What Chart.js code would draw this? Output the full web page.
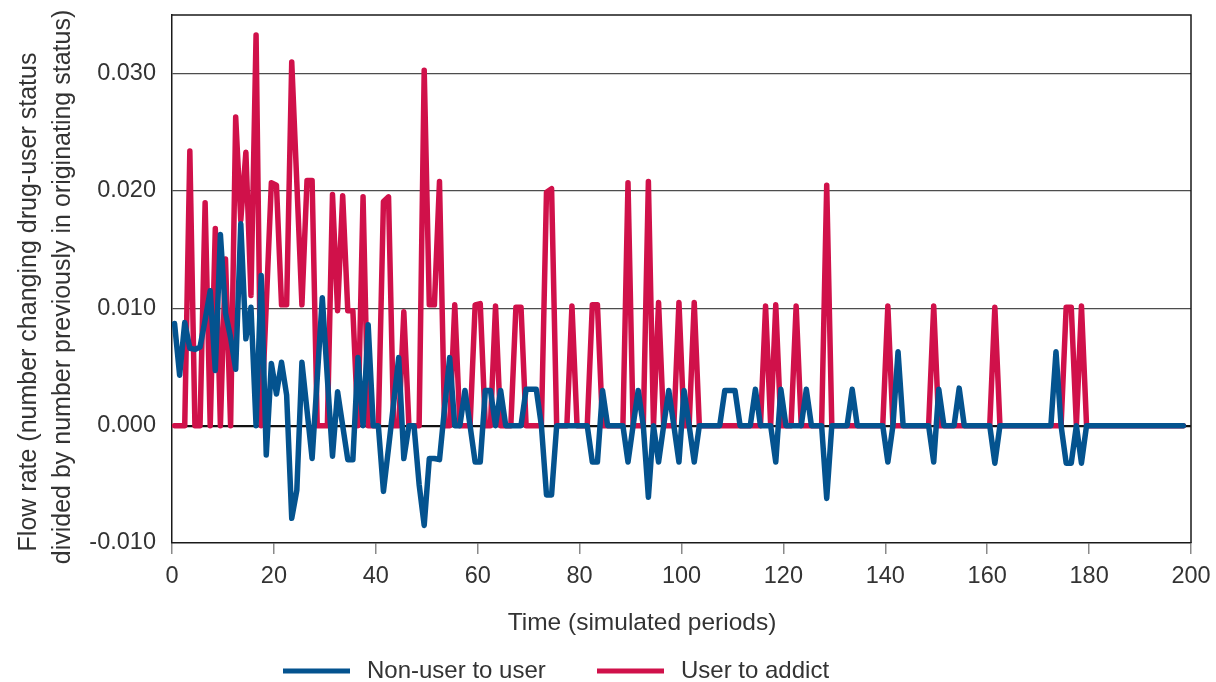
<!DOCTYPE html>
<html>
<head>
<meta charset="utf-8">
<script src="https://cdn.jsdelivr.net/npm/chart.js@4.4.1/dist/chart.umd.min.js"></script>
<style>
  html, body { margin: 0; padding: 0; background: #ffffff; }
  #wrap { width: 1216px; height: 682px; }
</style>
</head>
<body>
<div id="wrap"><canvas id="flowChart" width="1216" height="682"></canvas></div>
<script>
// Flow rates per simulated period (one value per period, k = 0..198)
const nonUserToUser = [
  0.0087, 0.0043, 0.0088, 0.0066, 0.0065, 0.0067, 0.0090, 0.0115, 0.0047, 0.0163,
  0.0096, 0.0075, 0.0048, 0.0172, 0.0074, 0.0101, 0, 0.0128, -0.0025, 0.0053,
  0.0027, 0.0054, 0.0026, -0.0079, -0.0055, 0.0054, 0.0013, -0.0028, 0.0040, 0.0109,
  0.0040, -0.0026, 0.0029, 0, -0.0029, -0.0029, 0.0058, 0, 0.0086, 0,
  0, -0.0056, -0.0019, 0.0019, 0.0058, -0.0028, 0, 0, -0.0050, -0.0085,
  -0.0028, -0.0028, -0.0029, 0.0015, 0.0058, 0, 0, 0.0030, 0, -0.0031,
  -0.0031, 0.0030, 0.0030, 0, 0.0030, 0, 0, 0, 0, 0.0031,
  0.0031, 0.0031, 0, -0.0059, -0.0059, 0, 0, 0, 0, 0,
  0, 0, -0.0031, -0.0031, 0.0030, 0, 0, 0, 0, -0.0031,
  0, 0.0030, 0, -0.0061, 0, -0.0031, 0, 0.0030, 0, -0.0031,
  0.0030, 0, -0.0031, 0, 0, 0, 0, 0, 0.0030, 0.0030,
  0.0030, 0, 0, 0, 0.0031, 0, 0, 0, -0.0031, 0.0031,
  0, 0, 0, 0, 0.0031, 0, 0, 0, -0.0062, 0,
  0, 0, 0, 0.0031, 0, 0, 0, 0, 0, 0,
  -0.0031, 0, 0.0063, 0, 0, 0, 0, 0, 0, -0.0031,
  0.0031, 0, 0, 0, 0.0032, 0, 0, 0, 0, 0,
  0, -0.0032, 0, 0, 0, 0, 0, 0, 0, 0,
  0, 0, 0, 0.0063, 0, -0.0032, -0.0032, 0, -0.0032, 0,
  0, 0, 0, 0, 0, 0, 0, 0, 0, 0,
  0, 0, 0, 0, 0, 0, 0, 0, 0
];

const userToAddict = [
  0, 0, 0, 0.0234, 0, 0, 0.0190, 0, 0.0168, 0,
  0.0142, 0, 0.0263, 0.0175, 0.0233, 0.0111, 0.0333, 0, 0.0103, 0.0207,
  0.0205, 0.0103, 0.0103, 0.0310, 0.0207, 0.0103, 0.0209, 0.0209, 0, 0,
  0, 0.0197, 0.0098, 0.0196, 0.0098, 0.0098, 0, 0.0195, 0, 0,
  0, 0.0191, 0.0195, 0, 0, 0.0097, 0, 0, 0, 0.0303,
  0.0103, 0.0103, 0.0208, 0, 0, 0.0103, 0, 0, 0, 0.0103,
  0.0104, 0, 0, 0.0102, 0, 0, 0, 0.0101, 0.0101, 0,
  0, 0, 0, 0.0199, 0.0202, 0, 0, 0, 0.0102, 0,
  0, 0, 0.0103, 0.0103, 0, 0, 0, 0, 0, 0.0207,
  0, 0, 0, 0.0208, 0, 0.0105, 0, 0, 0, 0.0105,
  0, 0, 0.0105, 0, 0, 0, 0, 0, 0, 0,
  0, 0, 0, 0, 0, 0, 0.0102, 0, 0.0103, 0,
  0, 0, 0.0102, 0, 0, 0, 0, 0, 0.0205, 0,
  0, 0, 0, 0, 0, 0, 0, 0, 0, 0,
  0.0102, 0, 0, 0, 0, 0, 0, 0, 0, 0.0102,
  0, 0, 0, 0, 0, 0, 0, 0, 0, 0,
  0, 0.0101, 0, 0, 0, 0, 0, 0, 0, 0,
  0, 0, 0, 0, 0, 0.0101, 0.0101, 0, 0.0102, 0,
  0, 0, 0, 0, 0, 0, 0, 0, 0, 0,
  0, 0, 0, 0, 0, 0, 0, 0, 0
];

// Each flow is plotted at the middle of its period
const periods = userToAddict.map((_, i) => i + 0.5);

const xTickValues = [0, 20, 40, 60, 80, 100, 120, 140, 160, 180, 200];
const yTickValues = [-0.010, 0.000, 0.010, 0.020, 0.030];

const seriesLabels = ['Non-user to user', 'User to addict'];
const xTitle = 'Time (simulated periods)';
const yTitleLines = [
  'Flow rate (number changing drug-user status',
  'divided by number previously in originating status)'
];

const BLUE = '#04538f';
const RED = '#d0114a';
const FONT = '"Liberation Sans", Arial, Helvetica, sans-serif';
const TEXT = '#333333';

// Frame, axis titles and legend drawn straight onto the canvas
const decorations = {
  id: 'decorations',
  afterDraw(chart) {
    const { ctx, chartArea } = chart;
    ctx.save();

    // top and right edges of the plot box
    ctx.strokeStyle = '#1a1a1a';
    ctx.lineWidth = 1.5;
    ctx.beginPath();
    ctx.moveTo(chartArea.left, chartArea.top);
    ctx.lineTo(chartArea.right, chartArea.top);
    ctx.lineTo(chartArea.right, chartArea.bottom);
    ctx.stroke();

    // y-axis title (two rotated lines)
    ctx.fillStyle = TEXT;
    ctx.font = '25px ' + FONT;
    ctx.textAlign = 'center';
    ctx.textBaseline = 'middle';
    const yTitlePos = [[29, 302], [63, 287]];
    yTitleLines.forEach((line, i) => {
      ctx.save();
      ctx.translate(yTitlePos[i][0], yTitlePos[i][1]);
      ctx.rotate(-Math.PI / 2);
      ctx.fillText(line, 0, 0);
      ctx.restore();
    });

    // x-axis title
    ctx.font = '24.5px ' + FONT;
    ctx.fillText(xTitle, 642, 623);

    // legend
    const legendItems = [
      { x0: 283, x1: 350, tx: 367 },
      { x0: 597, x1: 664, tx: 681 }
    ];
    ctx.font = '24px ' + FONT;
    ctx.textAlign = 'left';
    chart.data.datasets.forEach((ds, i) => {
      const it = legendItems[i];
      ctx.strokeStyle = ds.borderColor;
      ctx.lineWidth = 5;
      ctx.beginPath();
      ctx.moveTo(it.x0, 671);
      ctx.lineTo(it.x1, 671);
      ctx.stroke();
      ctx.fillStyle = TEXT;
      ctx.fillText(ds.label, it.tx, 671);
    });

    ctx.restore();
  }
};

const lineStyle = {
  borderWidth: 5.5,
  pointRadius: 0,
  pointHoverRadius: 0,
  tension: 0,
  borderJoinStyle: 'round',
  borderCapStyle: 'round',
  fill: false
};

new Chart(document.getElementById('flowChart'), {
  type: 'line',
  data: {
    datasets: [
      Object.assign({
        label: seriesLabels[0],
        data: periods.map((p, i) => ({ x: p, y: nonUserToUser[i] })),
        borderColor: BLUE,
        backgroundColor: BLUE
      }, lineStyle),
      Object.assign({
        label: seriesLabels[1],
        data: periods.map((p, i) => ({ x: p, y: userToAddict[i] })),
        borderColor: RED,
        backgroundColor: RED
      }, lineStyle)
    ]
  },
  options: {
    responsive: false,
    animation: false,
    devicePixelRatio: 1,
    layout: { padding: { top: 15, right: 25, bottom: 0, left: 0 } },
    plugins: {
      legend: { display: false },
      tooltip: { enabled: false },
      title: { display: false }
    },
    scales: {
      x: {
        type: 'linear',
        min: 0,
        max: 200,
        afterBuildTicks: (scale) => { scale.ticks = xTickValues.map(v => ({ value: v })); },
        afterFit: (scale) => {
          scale.height = 139;
          scale.paddingLeft = 0;
          scale.paddingRight = 0;
        },
        grid: {
          drawOnChartArea: false,
          drawTicks: true,
          tickLength: 11,
          color: '#8a8a8a',
          lineWidth: 1.5
        },
        border: { display: true, color: '#1a1a1a', width: 1.5 },
        ticks: {
          color: TEXT,
          font: { family: FONT, size: 23.5 },
          padding: 8,
          maxRotation: 0,
          autoSkip: false
        }
      },
      y: {
        type: 'linear',
        min: -0.010,
        max: 0.035,
        afterBuildTicks: (scale) => { scale.ticks = yTickValues.map(v => ({ value: v })); },
        afterFit: (scale) => {
          scale.width = 172;
          scale.paddingTop = 0;
          scale.paddingBottom = 0;
        },
        grid: {
          drawTicks: false,
          color: (c) => {
            const v = c.tick ? c.tick.value : 1;
            if (Math.abs(v) < 1e-9) return '#111111';
            if (v < -0.0099) return 'rgba(0,0,0,0)';
            return '#4d4d4d';
          },
          lineWidth: (c) => {
            const v = c.tick ? c.tick.value : 1;
            return Math.abs(v) < 1e-9 ? 2.2 : 1.3;
          }
        },
        border: { display: true, color: '#1a1a1a', width: 1.5 },
        ticks: {
          color: TEXT,
          font: { family: FONT, size: 23.5 },
          padding: 16,
          callback: (v) => Number(v).toFixed(3)
        }
      }
    }
  },
  plugins: [decorations]
});
</script>
</body>
</html>
